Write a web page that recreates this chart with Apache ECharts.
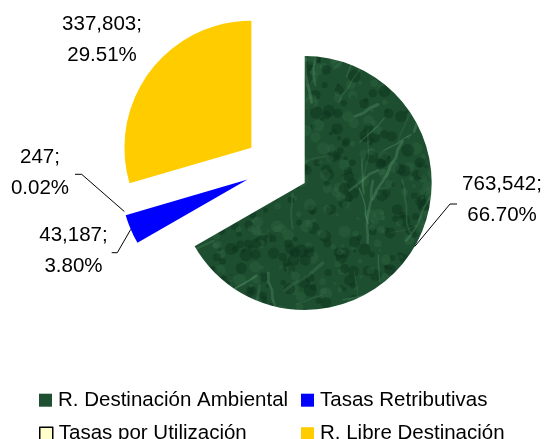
<!DOCTYPE html>
<html><head><meta charset="utf-8">
<script src="https://cdn.jsdelivr.net/npm/echarts@6/dist/echarts.min.js"></script>
<style>html,body{margin:0;padding:0;background:#fff}#c{width:544px;height:439px}</style>
</head><body><div id="c"></div>
<script>
// ---- data ----
const categories = ['R. Destinación Ambiental', 'Tasas Retributivas', 'Tasas por Utilización', 'R. Libre Destinación'];
const values = [763542, 43187, 247, 337803];
const percentLabels = ['66.70%', '3.80%', '0.02%', '29.51%'];
const colors = ['#1f5031', '#0000ff', '#ffffcc', '#ffcc00'];

// ---- layout (positions, not data) ----
const pieCenter = [277, 167];
const pieRadius = 127;
const explode = 32;
const labelPos = [
  { x: 502, y: 200, line: [[450, 204], [457, 204]] },
  { x: 73.5, y: 251, line: [[117.3, 252.7], [111.7, 252.7]] },
  { x: 40, y: 173, line: [[81.7, 174.3], [75, 174.3]] },
  { x: 102, y: 40, line: null }
];
const legendPos = [ [39, 389.7], [301, 389.7], [39, 423.2], [301, 423.2] ];
const FONT = '"Liberation Sans", Arial, sans-serif';

// deterministic marble-like texture for the green slice
function makeMarble() {
  const w = 544, h = 439, cv = document.createElement('canvas');
  cv.width = w; cv.height = h;
  const g = cv.getContext('2d');
  g.fillStyle = '#1d4e2f'; g.fillRect(0, 0, w, h);
  let seed = 98765;
  const rnd = () => { seed = (seed * 16807) % 2147483647; return seed / 2147483647; };
  for (let i = 0; i < 2500; i++) {
    g.fillStyle = rnd() < 0.55 ? 'rgba(14,52,30,0.5)' : 'rgba(52,108,72,0.3)';
    const r = 1.5 + rnd() * 5;
    g.beginPath(); g.arc(rnd() * w, rnd() * h, r, 0, Math.PI * 2); g.fill();
  }
  g.lineCap = 'round';
  for (let i = 0; i < 140; i++) {
    g.strokeStyle = 'rgba(110,170,130,' + (0.12 + rnd() * 0.2).toFixed(2) + ')';
    g.lineWidth = 1 + rnd() * 2.2;
    let x = rnd() * w, y = rnd() * h;
    g.beginPath(); g.moveTo(x, y);
    const a = rnd() < 0.5 ? Math.PI / 2 + (rnd() - 0.5) * 0.6 : (rnd() - 0.5) * 1.2 + Math.PI * 0.8;
    const n = 3 + Math.floor(rnd() * 5);
    for (let k = 0; k < n; k++) {
      x += Math.cos(a + (rnd() - 0.5) * 0.5) * 9; y += Math.sin(a + (rnd() - 0.5) * 0.5) * 9;
      g.lineTo(x, y);
    }
    g.stroke();
  }
  return cv;
}
const marble = makeMarble();

const total = values.reduce((a, b) => a + b, 0);
const fmt = v => v.toLocaleString('en-US');

const series = [];
let cum = 0;
values.forEach((v, i) => {
  const mid = (cum + v / 2) / total * Math.PI * 2; // clockwise from top
  cum += v;
  const center = [pieCenter[0] + explode * Math.sin(mid), pieCenter[1] - explode * Math.cos(mid)];
  series.push({
    type: 'pie',
    center: center,
    radius: pieRadius,
    startAngle: 90,
    clockwise: true,
    avoidLabelOverlap: false,
    animation: false,
    silent: true,
    emphasis: { disabled: true },
    data: categories.map((name, j) => ({
      name: name,
      value: values[j],
      itemStyle: j === i
        ? { color: j === 0 ? { image: marble, repeat: 'no-repeat' } : colors[j] }
        : { color: 'rgba(0,0,0,0)' },
      label: { show: j === i },
      labelLine: { show: j === i && labelPos[j].line !== null }
    })),
    label: {
      position: 'outside',
      formatter: p => fmt(values[p.dataIndex]) + ';\n' + percentLabels[p.dataIndex],
      fontSize: 20.5,
      lineHeight: 31,
      color: '#000',
      fontFamily: FONT
    },
    labelLine: { length: 10, length2: 10, lineStyle: { color: '#000', width: 1 } },
    labelLayout: function (params) {
      const lp = labelPos[params.dataIndex];
      const out = { x: lp.x, y: lp.y, align: 'center', verticalAlign: 'middle' };
      if (lp.line && params.labelLinePoints && params.labelLinePoints.length) {
        out.labelLinePoints = [params.labelLinePoints[0], lp.line[0], lp.line[1]];
      }
      return out;
    }
  });
});

const legends = categories.map((name, i) => ({
  orient: 'horizontal',
  left: legendPos[i][0], top: legendPos[i][1],
  padding: 0,
  itemWidth: 13, itemHeight: 13,
  icon: 'rect', selectedMode: false,
  textStyle: { fontSize: 20.5, lineHeight: 20, color: '#000', fontFamily: FONT, padding: [0, 0, 0, 1] },
  data: [{
    name: name,
    itemStyle: i === 2
      ? { color: colors[i], borderColor: '#000', borderWidth: 1.5 }
      : { color: colors[i], borderWidth: 0 }
  }]
}));

const chart = echarts.init(document.getElementById('c'), null, { renderer: 'canvas' });
chart.setOption({
  backgroundColor: '#fff',
  animation: false,
  legend: legends,
  series: series
});
</script></body></html>
